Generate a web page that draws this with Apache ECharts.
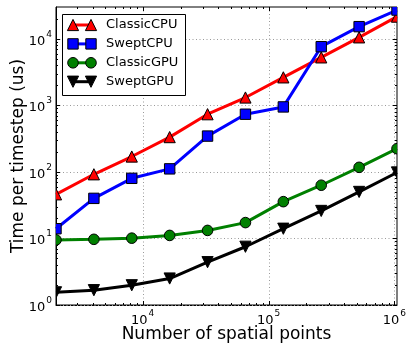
<!DOCTYPE html>
<html><head><meta charset="utf-8">
<script src="https://cdn.jsdelivr.net/npm/echarts@6/dist/echarts.min.js"></script>
<style>html,body{margin:0;padding:0;background:#fff}#c{width:407px;height:344px}</style>
</head><body><div id="c"></div>
<script>
const xPoints = [2048, 4096, 8192, 16384, 32768, 65536, 131072, 262144, 524288, 1048576];
const seriesNames = ['ClassicCPU', 'SweptCPU', 'ClassicGPU', 'SweptGPU'];
const classicCPU = [46, 92, 170, 333, 735, 1310, 2630, 5250, 10500, 21500];
const sweptCPU = [14, 40, 80, 111, 345, 735, 946, 7600, 15200, 27000];
const classicGPU = [9.5, 9.7, 10.1, 11.1, 13.2, 17.3, 35.7, 63, 117, 223];
const sweptGPU = [1.55, 1.67, 1.98, 2.5, 4.4, 7.5, 14, 25.9, 50, 98];
const xMajorTicks = [1e4, 1e5, 1e6];
const yMajorTicks = [1, 10, 100, 1000, 10000];
const xRange = [2048, 1048576];
const yRange = [1, 30000];

const FONT = 'DejaVu Sans';
const defs = [
  {name: seriesNames[0], data: classicCPU, color: '#ff0000', marker: 'tri'},
  {name: seriesNames[1], data: sweptCPU, color: '#0000ff', marker: 'square'},
  {name: seriesNames[2], data: classicGPU, color: '#008000', marker: 'circle'},
  {name: seriesNames[3], data: sweptGPU, color: '#000000', marker: 'tridown'}
];

function minorTicks(lo, hi) {
  const out = [];
  for (let e = Math.floor(Math.log10(lo)); e <= Math.ceil(Math.log10(hi)); e++) {
    for (let m = 2; m <= 9; m++) {
      const v = m * Math.pow(10, e);
      if (v > lo && v < hi) out.push(v);
    }
  }
  return out;
}

function markerShape(kind, cx, cy) {
  if (kind === 'tri') { const h = 5.6; return {type: 'polygon', shape: {points: [[cx, cy - h], [cx - h, cy + h], [cx + h, cy + h]]}}; }
  if (kind === 'tridown') { const h = 5.6; return {type: 'polygon', shape: {points: [[cx, cy + h], [cx - h, cy - h], [cx + h, cy - h]]}}; }
  if (kind === 'square') { const h = 5.2; return {type: 'rect', shape: {x: cx - h, y: cy - h, width: 2 * h, height: 2 * h}}; }
  return {type: 'circle', shape: {cx: cx, cy: cy, r: 5.3}};
}

function supLabel(v) {
  const e = Math.log10(v);
  const r = Math.round(e);
  if (Math.abs(e - r) > 1e-6) return '';
  return '{b|10}{s|' + r + '}';
}
const richLab = {
  b: {fontFamily: FONT, fontSize: 13, color: '#000', lineHeight: 18, verticalAlign: 'bottom'},
  s: {fontFamily: FONT, fontSize: 9, color: '#000', lineHeight: 18, verticalAlign: 'top', padding: [0, 0, 0, 1]}
};

const series = [];
const xTickData = xMajorTicks.map(v => [v, yRange[0], 1]).concat(minorTicks(xRange[0], xRange[1]).map(v => [v, yRange[0], 0]));
const yTickData = yMajorTicks.map(v => [xRange[0], v, 1]).concat(minorTicks(yRange[0], yRange[1]).map(v => [xRange[0], v, 0]));
series.push({
  type: 'custom', data: xTickData, silent: true, animation: false, z: 1,
  renderItem: function (p, api) {
    const cs = p.coordSys;
    const x = Math.round(api.coord([api.value(0), yRange[0]])[0]) + 0.5;
    const major = api.value(2) === 1;
    const L = major ? 4 : 2;
    const top = cs.y, bot = cs.y + cs.height;
    const ch = [
      {type: 'line', shape: {x1: x, y1: bot, x2: x, y2: bot - L}, style: {stroke: '#000', lineWidth: 1}},
      {type: 'line', shape: {x1: x, y1: top, x2: x, y2: top + L}, style: {stroke: '#000', lineWidth: 1}}
    ];
    if (major) ch.unshift({type: 'line', shape: {x1: x, y1: top, x2: x, y2: bot}, style: {stroke: '#9a9a9a', lineWidth: 1, lineDash: [1, 2.5]}});
    return {type: 'group', children: ch};
  }
});
series.push({
  type: 'custom', data: yTickData, silent: true, animation: false, z: 1,
  renderItem: function (p, api) {
    const cs = p.coordSys;
    const y = Math.round(api.coord([xRange[0], api.value(1)])[1]) + 0.5;
    const major = api.value(2) === 1;
    const L = major ? 4 : 2;
    const left = cs.x, right = cs.x + cs.width;
    const ch = [
      {type: 'line', shape: {x1: left, y1: y, x2: left + L, y2: y}, style: {stroke: '#000', lineWidth: 1}},
      {type: 'line', shape: {x1: right, y1: y, x2: right - L, y2: y}, style: {stroke: '#000', lineWidth: 1}}
    ];
    if (major) ch.unshift({type: 'line', shape: {x1: left, y1: y, x2: right, y2: y}, style: {stroke: '#9a9a9a', lineWidth: 1, lineDash: [1, 2.5]}});
    return {type: 'group', children: ch};
  }
});

defs.forEach(function (d, k) {
  const pts = xPoints.map((x, i) => [x, d.data[i]]);
  series.push({
    type: 'line', name: d.name, data: pts, showSymbol: false, symbol: 'none', clip: true,
    lineStyle: {color: d.color, width: 3}, itemStyle: {color: d.color},
    silent: true, animation: false, z: 3 + k * 2
  });
  series.push({
    type: 'custom', name: d.name + '_m', data: pts, clip: true, silent: true, animation: false, z: 4 + k * 2,
    renderItem: function (p, api) {
      const pt = api.coord([api.value(0), api.value(1)]);
      const sh = markerShape(d.marker, pt[0], pt[1]);
      sh.style = {fill: d.color, stroke: '#000', lineWidth: 1};
      return sh;
    }
  });
});

const legendX = 62, legendY = 14, rowH = 18.9;
const gfx = [{type: 'rect', shape: {x: legendX + 0.5, y: legendY + 0.5, width: 123, height: 81}, style: {fill: '#fff', stroke: '#000', lineWidth: 1}, z: 50}];
defs.forEach(function (d, i) {
  const cy = legendY + 11 + i * rowH;
  gfx.push({type: 'line', shape: {x1: 73, y1: cy, x2: 91, y2: cy}, style: {stroke: d.color, lineWidth: 3}, z: 51});
  [73, 91].forEach(function (cx) {
    const sh = markerShape(d.marker, cx, cy);
    sh.style = {fill: d.color, stroke: '#000', lineWidth: 1};
    sh.z = 52;
    gfx.push(sh);
  });
  gfx.push({type: 'text', x: 106, y: cy, style: {text: d.name, fontFamily: FONT, fontSize: 13, fill: '#000', verticalAlign: 'middle'}, z: 52});
});

const chart = echarts.init(document.getElementById('c'), null, {renderer: 'canvas'});
chart.setOption({
  animation: false,
  backgroundColor: '#fff',
  grid: {left: 56, right: 10, top: 7, bottom: 39, show: true, borderColor: '#000', borderWidth: 1, backgroundColor: '#fff', containLabel: false, outerBoundsMode: 'none'},
  xAxis: {
    type: 'log', logBase: 10, min: xRange[0], max: xRange[1],
    name: 'Number of spatial points', nameLocation: 'middle', nameGap: 21, nameMoveOverlap: false,
    nameTextStyle: {fontFamily: FONT, fontSize: 17, color: '#000'},
    axisLine: {show: true, lineStyle: {color: '#000', width: 1}},
    axisTick: {show: false}, splitLine: {show: false}, minorTick: {show: false},
    axisLabel: {formatter: supLabel, rich: richLab, margin: 4, showMinLabel: true, showMaxLabel: true}
  },
  yAxis: {
    type: 'log', logBase: 10, min: yRange[0], max: yRange[1],
    name: 'Time per timestep (us)', nameLocation: 'middle', nameGap: 29, nameMoveOverlap: false,
    nameTextStyle: {fontFamily: FONT, fontSize: 17, color: '#000'},
    axisLine: {show: true, lineStyle: {color: '#000', width: 1}},
    axisTick: {show: false}, splitLine: {show: false}, minorTick: {show: false},
    axisLabel: {formatter: supLabel, rich: richLab, margin: 4}
  },
  series: series,
  graphic: gfx
});
</script>
</body></html>
